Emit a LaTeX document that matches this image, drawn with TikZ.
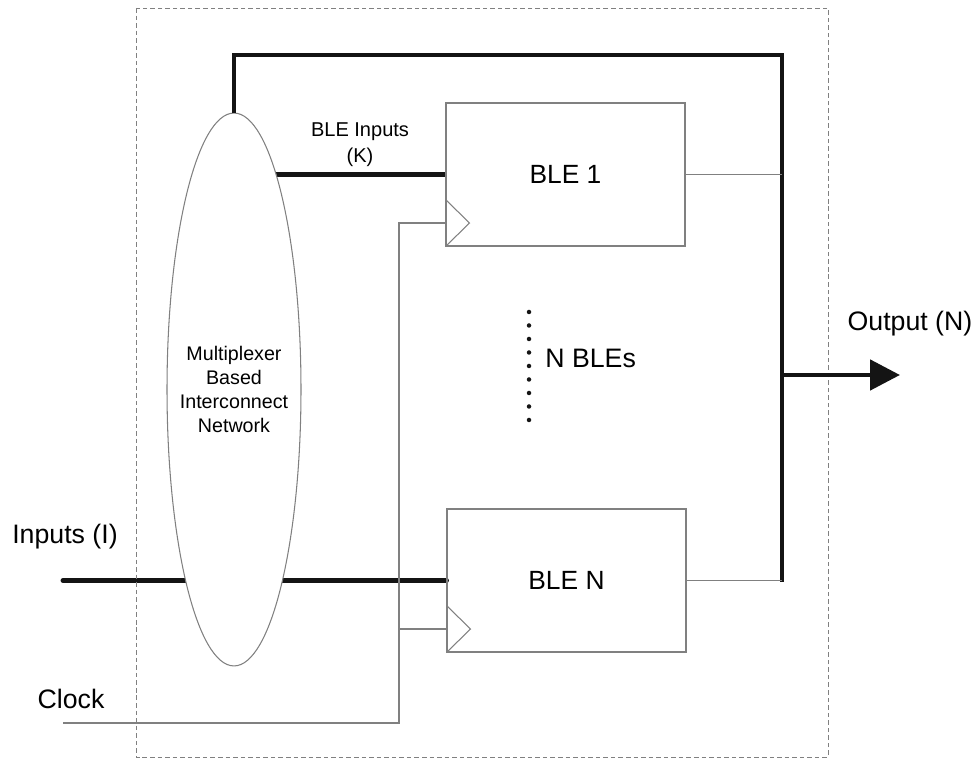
\documentclass[tikz,border=0pt]{standalone}
\usepackage{fontspec}
\setmainfont{Liberation Sans}
\usetikzlibrary{shapes.geometric,arrows.meta,calc,backgrounds}
\definecolor{linegray}{gray}{0.5}
\definecolor{busblack}{gray}{0.08}
\begin{document}
\begin{tikzpicture}[x=0.02cm,y=-0.02cm,
  thinline/.style={draw=linegray, line width=0.6pt},
  bus/.style={draw=busblack, line width=2.8pt},
  blebox/.style={draw=linegray, line width=0.6pt, minimum width=4.78cm, minimum height=2.86cm, inner sep=0pt, font=\fontsize{15}{18}\selectfont},
  muxshape/.style={ellipse, draw=linegray, line width=0.6pt, fill=white, minimum width=2.68cm, minimum height=11.06cm, inner sep=0pt},
  muxtext/.style={align=center, inner sep=0pt, font=\fontsize{11.2}{13.6}\selectfont},
  biglabel/.style={font=\fontsize{15.2}{18}\selectfont, inner sep=0pt},
  smalllabel/.style={font=\fontsize{11.4}{14.7}\selectfont, align=center, inner sep=0pt},
  border/.style={draw=linegray, line width=0.5pt, dash pattern=on 2.6pt off 1.7pt}
]
\useasboundingbox (0,0) rectangle (978,759);

% dashed cluster border
\draw[border] (136,8) rectangle (828,757);

% nodes
\node[muxshape] (mux) at (234,389.5) {};
\node[muxtext] (muxlbl) at (mux.center) {Multiplexer\\Based\\Interconnect\\Network};
\node[blebox] (b1) at (565.5,174.5) {BLE 1};
\node[blebox] (bN) at (566.5,580.5) {BLE N};

% coordinates
\coordinate (tr) at (782,55);
\coordinate (oj) at (782,375);
\coordinate (out) at (900,375);
\coordinate (inp) at (63,580.5);
\coordinate (clk) at (63,723);
\coordinate (cv) at (399,723);
\coordinate (c1) at ($(b1.south west)+(0,-23.5)$);
\coordinate (cN) at ($(bN.south west)+(0,-23.5)$);

% lines passing under the ellipse
\begin{scope}[on background layer]
  \draw[bus] (mux.center |- b1.west) -- (b1.west);
  \draw[bus, line cap=round] (inp) -- (bN.west);
\end{scope}

% feedback / output bus
\draw[bus] (mux.north) |- (tr) -- ($(tr |- bN.east)+(0,1.5)$);
\draw[bus, -{Triangle[length=17pt,width=17pt]}] (oj) -- (out);

% BLE outputs
\draw[thinline] (b1.east) -- (b1.east -| tr);
\draw[thinline] (bN.east) -- (bN.east -| tr);

% clock triangles
\draw[thinline] ($(b1.south west)+(0,-47)$) -- ($(b1.south west)+(24,-23.5)$) -- (b1.south west);
\draw[thinline] ($(bN.south west)+(0,-47)$) -- ($(bN.south west)+(24,-23.5)$) -- (bN.south west);

% clock wiring
\draw[thinline] (clk) -- (cv) |- (c1);
\draw[thinline] (cv |- cN) -- (cN);

% dots
\foreach \i in {0,...,8} \fill[busblack] (529,312+13.5*\i) circle[radius=0.045cm];

% labels
\node[biglabel] (inlbl) at (65,537) {Inputs (I)};
\node[biglabel] (clklbl) at (71,699) {Clock};
\node[biglabel] (outlbl) at (910,324) {Output (N)};
\node[smalllabel] (klbl) at (360,145) {BLE Inputs\\(K)};
\node[font=\fontsize{15.2}{18}\selectfont, inner sep=0pt, anchor=west] (nbles) at (545,358) {N BLEs};
\end{tikzpicture}
\end{document}
